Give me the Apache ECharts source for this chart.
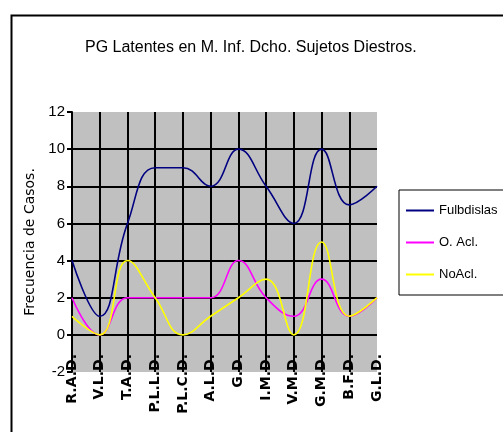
<!DOCTYPE html>
<html>
<head>
<meta charset="utf-8">
<script src="https://cdn.jsdelivr.net/npm/echarts@6/dist/echarts.min.js"></script>
<style>
  html, body { margin: 0; padding: 0; background: #fff; }
  #chart { width: 503px; height: 432px; }
</style>
</head>
<body>
<div id="chart"></div>
<script>
// Muscle sites, in order along the category axis
const categories = ["R.A.D.", "V.L.D.", "T.A.D.", "P.L.L.D.", "P.L.C.D.", "A.L.D.", "G.D.", "I.M.D.", "V.M.D.", "G.M.D.", "B.F.D.", "G.L.D."];

// Case counts per group
const fulbdislas = [4, 1, 6, 9, 9, 8, 10, 8, 6, 10, 7, 8];
const oAcl       = [2, 0, 2, 2, 2, 2, 4, 2, 1, 3, 1, 2];
const noAcl      = [1, 0, 4, 2, 0, 1, 2, 3, 0, 5, 1, 2];

const yTicks = { min: -2, max: 12, interval: 2 };

const chart = echarts.init(document.getElementById('chart'), null, { renderer: 'canvas' });

const lineSeries = (name, data, color) => ({
  name, type: 'line', data, smooth: 0.45, symbol: 'none',
  lineStyle: { color, width: 1.6 }, itemStyle: { color }
});

chart.setOption({
  animation: false,
  backgroundColor: '#ffffff',
  title: {
    text: 'PG Latentes en M. Inf. Dcho. Sujetos Diestros.',
    left: 80, top: 35,
    textStyle: { fontFamily: 'Liberation Sans', fontSize: 16, fontWeight: 'normal', color: '#000' }
  },
  graphic: [{
    type: 'rect', left: 9, top: 13, z: 100, silent: true,
    shape: { width: 500, height: 440 },
    style: { fill: 'none', stroke: '#000', lineWidth: 2 }
  }],
  legend: {
    orient: 'vertical', left: 399, top: 190,
    padding: [14, 40, 14, 7], itemGap: 19,
    itemWidth: 28, itemHeight: 2, icon: 'rect',
    borderColor: '#000', borderWidth: 1,
    textStyle: { fontFamily: 'Liberation Sans', fontSize: 13, color: '#000' },
    data: ['Fulbdislas', 'O. Acl.', 'NoAcl.']
  },
  grid: { left: 72, right: 126, top: 112, bottom: 60, show: true, backgroundColor: '#c0c0c0', borderWidth: 0 },
  xAxis: {
    type: 'category', data: categories, boundaryGap: false,
    axisLine: { show: false }, axisTick: { show: false },
    axisLabel: {
      rotate: 90, margin: -18, interval: 0, color: '#000',
      fontFamily: 'DejaVu Sans', fontSize: 14, fontWeight: 'bold'
    },
    splitLine: { show: true, showMaxLine: false, lineStyle: { color: '#000', width: 2 } }
  },
  yAxis: {
    type: 'value', min: yTicks.min, max: yTicks.max, interval: yTicks.interval,
    name: 'Frecuencia de Casos.', nameLocation: 'middle', nameRotate: 90, nameGap: 34,
    nameTextStyle: { fontFamily: 'DejaVu Sans', fontSize: 14, color: '#000' },
    axisLine: { show: true, lineStyle: { color: '#000', width: 2 } },
    axisTick: { show: true, length: 5, lineStyle: { color: '#000', width: 2 } },
    axisLabel: { color: '#000', fontFamily: 'Liberation Sans', fontSize: 15, margin: 7 },
    splitLine: { show: true, showMinLine: false, showMaxLine: false, lineStyle: { color: '#000', width: 2 } }
  },
  series: [
    lineSeries('Fulbdislas', fulbdislas, '#000080'),
    lineSeries('O. Acl.', oAcl, '#ff00ff'),
    lineSeries('NoAcl.', noAcl, '#ffff00')
  ]
});
</script>
</body>
</html>
